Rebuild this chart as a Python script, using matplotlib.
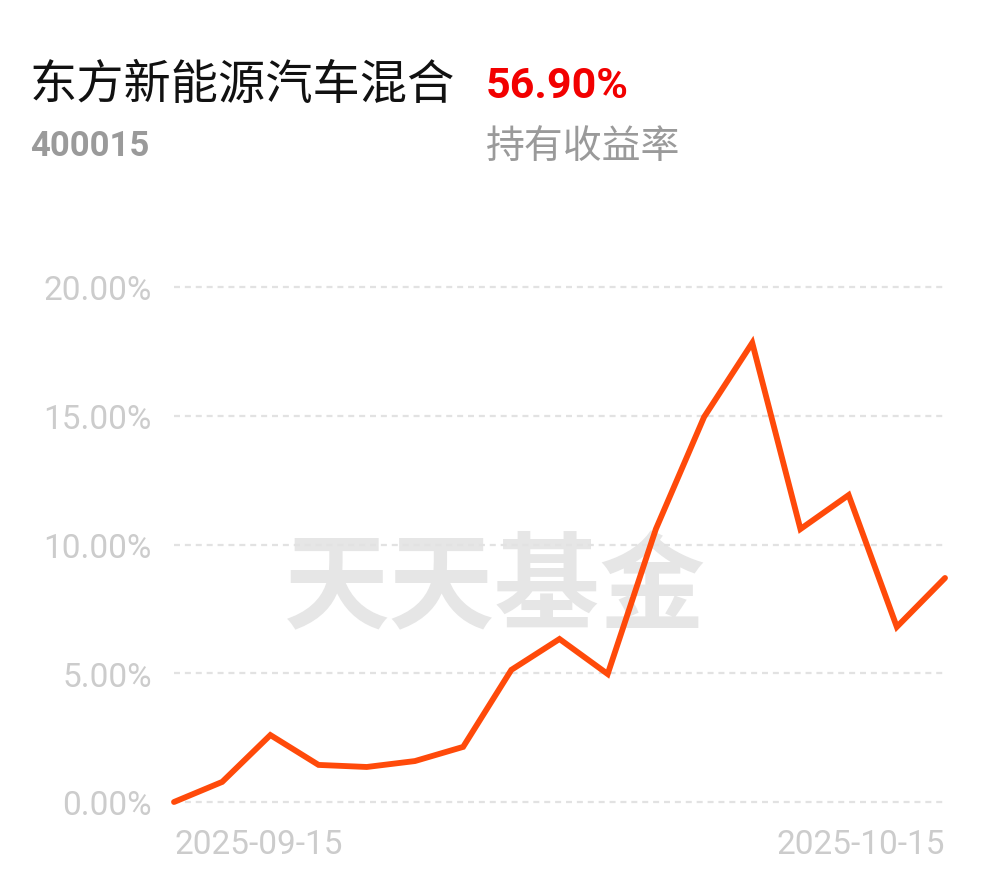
import matplotlib
matplotlib.use('Agg')
import matplotlib.pyplot as plt

plt.rcParams['font.family'] = ['Roboto', 'Noto Sans CJK SC', 'DejaVu Sans']

# fund info
fund_name = '东方新能源汽车混合'
fund_code = '400015'
hold_return = '56.90%'
hold_label = '持有收益率'

# trading days shown in the chart
dates = ['2025-09-15', '2025-09-16', '2025-09-17', '2025-09-18', '2025-09-19',
         '2025-09-22', '2025-09-23', '2025-09-24', '2025-09-25', '2025-09-26',
         '2025-09-29', '2025-09-30', '2025-10-09', '2025-10-10', '2025-10-13',
         '2025-10-14', '2025-10-15']
returns = [0.00, 0.78, 2.60, 1.44, 1.36, 1.59, 2.14, 5.13, 6.33, 4.97,
           10.60, 14.95, 17.83, 10.60, 11.92, 6.80, 8.70]
y_ticks = [0, 5, 10, 15, 20]

W, H = 990, 878
fig = plt.figure(figsize=(W / 100, H / 100), dpi=100)


def px(x, y):
	return x / W, 1 - y / H


# header texts
fig.text(*px(30, 86), fund_name, fontsize=34, color='#111111', va='center',
		 family=['Noto Sans CJK SC'])
fig.text(*px(486, 86), hold_return, fontsize=31, color='#F20000', va='center',
		 fontweight='bold', family=['Roboto'])
fig.text(*px(30, 147), fund_code, fontsize=25, color='#9A9A9A', va='center',
		 fontweight='bold', family=['Roboto'])
fig.text(*px(486, 147), hold_label, fontsize=28, color='#9A9A9A', va='center',
		 family=['Noto Sans CJK SC'])

# watermark
fig.text(*px(495, 590), '天天基金', fontsize=76, color='#E6E6E6', va='center',
		 ha='center', fontweight='bold', family=['Noto Sans CJK SC'], zorder=-1)

left, right, top, bottom = 174, 945, 288, 803
ax = fig.add_axes([left / W, 1 - bottom / H, (right - left) / W, (bottom - top) / H])
ax.patch.set_alpha(0)

x = list(range(len(dates)))
ax.plot(x, returns, color='#FF4A0A', lw=4.2, solid_joinstyle='miter',
		solid_capstyle='round', clip_on=False, zorder=3)

ax.set_xlim(0, len(dates) - 1)
ax.set_ylim(0, 20)
for v in y_ticks:
	ax.axhline(v, color='#E2E2E2', lw=1.6, ls=(0, (2.7, 2.2)), zorder=1, clip_on=False)

for s in ax.spines.values():
	s.set_visible(False)

ax.set_yticks(y_ticks)
ax.set_yticklabels(['%.2f%%' % v for v in y_ticks], fontsize=24, color='#CCCCCC')
ax.tick_params(axis='y', length=0, pad=16)

ax.set_xticks([])
ax.text(0, -0.05, dates[0], transform=ax.get_xaxis_transform(), ha='left', va='top',
		fontsize=24, color='#CCCCCC')
ax.text(len(dates) - 1, -0.05, dates[-1], transform=ax.get_xaxis_transform(), ha='right',
		va='top', fontsize=24, color='#CCCCCC')

fig.savefig('out.png', dpi=100, facecolor='white')
